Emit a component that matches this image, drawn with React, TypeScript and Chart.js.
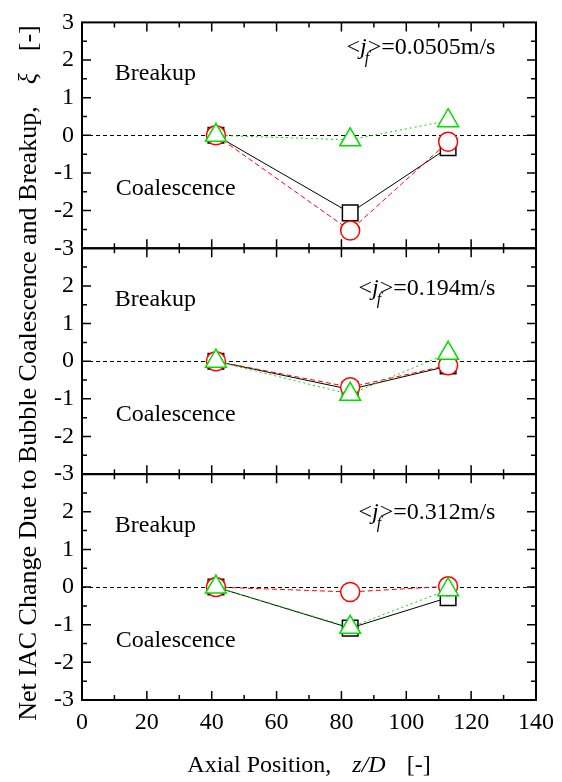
import React, { useEffect, useRef } from 'react';
import { Chart, registerables } from 'chart.js';

Chart.register(...registerables);

// ---- data ----
const axialPositions = [41.3, 82.7, 112.9];
const panelIds = ['yA', 'yB', 'yC'];
const jfLabels = ['0.0505', '0.194', '0.312'];

const squareTop = [0, -2.06, -0.33];
const circleTop = [0, -2.53, -0.17];
const triangleTop = [0, -0.12, 0.39];

const squareMid = [0, -0.75, -0.13];
const circleMid = [0, -0.69, -0.11];
const triangleMid = [0, -0.88, 0.21];

const squareBot = [0, -1.09, -0.28];
const circleBot = [0, -0.13, 0.02];
const triangleBot = [0, -1.07, -0.07];

const xMin = 0;
const xMax = 140;
const xStep = 20;
const yMin = -3;
const yMax = 3;
const yStep = 1;

const breakupText = 'Breakup';
const coalescenceText = 'Coalescence';
const xTitleParts = ['Axial Position,', 'z/D', '[-]'];
const yTitleParts = ['Net IAC Change Due to Bubble Coalescence and Breakup,', 'ξ', '[-]'];

// text anchor positions in data units
const breakupAt = { x: 10.1, y: 1.47 };
const coalescenceAt = { x: 10.4, y: -1.59 };
const annotRightX = 127.5;
const annotBaselineY = [2.15, 1.77, 1.82];

const FONT = "'Liberation Serif', 'Times New Roman', serif";
const GREEN = 'rgb(0,220,0)';
const RED = 'rgb(255,0,0)';

const seriesSets = [
  [squareTop, circleTop, triangleTop],
  [squareMid, circleMid, triangleMid],
  [squareBot, circleBot, triangleBot],
];

function buildDatasets() {
  const out: any[] = [];
  seriesSets.forEach((set, p) => {
    const yAxisID = panelIds[p];
    const pts = (vals: number[]) => axialPositions.map((x, i) => ({ x, y: vals[i] }));
    out.push({
      label: 'square' + p,
      data: pts(set[0]),
      yAxisID,
      xAxisID: 'x',
      borderColor: '#000',
      borderWidth: 1,
      pointStyle: 'rect',
      pointRadius: 11,
      pointBorderWidth: 1.5,
      pointBorderColor: '#000',
      pointBackgroundColor: '#fff',
      order: 3,
    });
    out.push({
      label: 'circle' + p,
      data: pts(set[1]),
      yAxisID,
      xAxisID: 'x',
      borderColor: RED,
      borderWidth: 1,
      borderDash: [5, 3],
      pointStyle: 'circle',
      pointRadius: 9.5,
      pointBorderWidth: 1.5,
      pointBorderColor: RED,
      pointBackgroundColor: '#fff',
      order: 2,
    });
    out.push({
      label: 'triangle' + p,
      data: pts(set[2]),
      yAxisID,
      xAxisID: 'x',
      borderColor: GREEN,
      borderWidth: 1,
      borderDash: [2, 3],
      pointStyle: 'triangle',
      pointRadius: 12,
      pointBorderWidth: 1.5,
      pointBorderColor: GREEN,
      pointBackgroundColor: '#fff',
      order: 1,
    });
  });
  return out;
}

const framePlugin = {
  id: 'framePlugin',
  beforeDatasetsDraw(chart: any) {
    const { ctx, chartArea } = chart;
    ctx.save();
    ctx.setLineDash([4, 3]);
    ctx.strokeStyle = '#000';
    ctx.lineWidth = 1;
    for (const id of panelIds) {
      const y = Math.round(chart.scales[id].getPixelForValue(0)) + 0.5;
      ctx.beginPath();
      ctx.moveTo(chartArea.left, y);
      ctx.lineTo(chartArea.right, y);
      ctx.stroke();
    }
    ctx.restore();
  },
  afterDatasetsDraw(chart: any) {
    const { ctx, chartArea } = chart;
    const xs = chart.scales.x;
    const left = chartArea.left;
    const right = chartArea.right;
    ctx.save();
    ctx.strokeStyle = '#000';
    ctx.fillStyle = '#000';
    panelIds.forEach((id, p) => {
      const s = chart.scales[id];
      const top = s.getPixelForValue(yMax);
      const bottom = s.getPixelForValue(yMin);
      ctx.lineWidth = 1.5;
      for (let v = yMin + 0.5; v < yMax; v += 0.5) {
        const y = s.getPixelForValue(v);
        const len = Math.abs(v - Math.round(v)) < 1e-6 ? 9 : 5;
        ctx.beginPath();
        ctx.moveTo(left, y);
        ctx.lineTo(left + len, y);
        ctx.moveTo(right, y);
        ctx.lineTo(right - len, y);
        ctx.stroke();
      }
      for (let v = xMin + 10; v < xMax; v += 10) {
        const x = xs.getPixelForValue(v);
        const len = v % 20 === 0 ? 9 : 5;
        ctx.beginPath();
        ctx.moveTo(x, top);
        ctx.lineTo(x, top + len);
        ctx.moveTo(x, bottom);
        ctx.lineTo(x, bottom - len);
        ctx.stroke();
      }
      ctx.lineWidth = 2;
      ctx.strokeRect(left, top, right - left, bottom - top);

      // region labels
      ctx.font = `24px ${FONT}`;
      ctx.textAlign = 'left';
      ctx.textBaseline = 'alphabetic';
      ctx.fillText(breakupText, xs.getPixelForValue(breakupAt.x), s.getPixelForValue(breakupAt.y));
      ctx.fillText(coalescenceText, xs.getPixelForValue(coalescenceAt.x), s.getPixelForValue(coalescenceAt.y));

      // annotation <j_f>=...m/s
      const base = s.getPixelForValue(annotBaselineY[p]);
      const rest = '=' + jfLabels[p] + 'm/s';
      const up = `24px ${FONT}`;
      const it = `italic 24px ${FONT}`;
      const sub = `italic 16px ${FONT}`;
      ctx.font = up;
      const wLt = ctx.measureText('<').width;
      const wGt = ctx.measureText('>').width;
      const wRest = ctx.measureText(rest).width;
      ctx.font = it;
      const wJ = ctx.measureText('j').width;
      const total = wLt + wJ + 1 + wGt + wRest;
      let x = xs.getPixelForValue(annotRightX) - total;
      ctx.font = up;
      ctx.fillText('<', x, base);
      x += wLt;
      ctx.font = it;
      ctx.fillText('j', x, base);
      ctx.font = sub;
      ctx.fillText('f', x + wJ - 2, base + 9);
      x += wJ + 1;
      ctx.font = up;
      ctx.fillText('>', x, base);
      x += wGt;
      ctx.fillText(rest, x, base);
    });
    ctx.restore();
  },
  afterDraw(chart: any) {
    const { ctx, chartArea } = chart;
    ctx.save();
    ctx.fillStyle = '#000';
    ctx.textBaseline = 'alphabetic';
    ctx.textAlign = 'left';
    const up = `24px ${FONT}`;
    const it = `italic 24px ${FONT}`;
    const gap = 21;

    // x title
    ctx.font = up;
    const w0 = ctx.measureText(xTitleParts[0]).width;
    const w2 = ctx.measureText(xTitleParts[2]).width;
    ctx.font = it;
    const w1 = ctx.measureText(xTitleParts[1]).width;
    const totalX = w0 + gap + w1 + gap + w2;
    const cx = (chartArea.left + chartArea.right) / 2;
    let x = cx - totalX / 2;
    const by = chartArea.bottom + 72;
    ctx.font = up;
    ctx.fillText(xTitleParts[0], x, by);
    x += w0 + gap;
    ctx.font = it;
    ctx.fillText(xTitleParts[1], x, by);
    x += w1 + gap;
    ctx.font = up;
    ctx.fillText(xTitleParts[2], x, by);

    // y title (rotated)
    const upY = `26px ${FONT}`;
    const itY = `italic 26px ${FONT}`;
    const gapY = 22;
    ctx.font = upY;
    const v0 = ctx.measureText(yTitleParts[0]).width;
    const v2 = ctx.measureText(yTitleParts[2]).width;
    ctx.font = itY;
    const v1 = ctx.measureText(yTitleParts[1]).width;
    const totalY = v0 + gapY + v1 + gapY + v2;
    ctx.translate(36, 373);
    ctx.rotate(-Math.PI / 2);
    let t = -totalY / 2;
    ctx.font = upY;
    ctx.fillText(yTitleParts[0], t, 0);
    t += v0 + gapY;
    ctx.font = itY;
    ctx.fillText(yTitleParts[1], t, 0);
    t += v1 + gapY;
    ctx.font = upY;
    ctx.fillText(yTitleParts[2], t, 0);
    ctx.restore();
  },
};

function yScale(idx: number, weight: number) {
  return {
    type: 'linear',
    position: 'left',
    stack: 'panels',
    stackWeight: 1,
    weight,
    min: yMin,
    max: yMax,
    grid: { display: false, drawTicks: false },
    border: { display: false },
    ticks: {
      stepSize: yStep,
      autoSkip: false,
      padding: 8,
      color: '#000',
      font: { family: FONT, size: 24 },
      callback: (v: number) => (idx > 0 && v === yMax ? '' : String(v)),
    },
    afterFit: (s: any) => {
      s.width = 82;
    },
  };
}

export default function App() {
  const ref = useRef<HTMLCanvasElement | null>(null);
  useEffect(() => {
    if (!ref.current) return;
    const chart = new Chart(ref.current, {
      type: 'line',
      data: { datasets: buildDatasets() },
      options: {
        animation: false,
        responsive: false,
        devicePixelRatio: 1,
        layout: { padding: { top: 20, right: 23, left: 0, bottom: 0 } },
        plugins: { legend: { display: false }, tooltip: { enabled: false } },
        scales: {
          x: {
            type: 'linear',
            position: 'bottom',
            min: xMin,
            max: xMax,
            grid: { display: false, drawTicks: false },
            border: { display: false },
            ticks: {
              stepSize: xStep,
              autoSkip: false,
              maxRotation: 0,
              padding: 8,
              color: '#000',
              font: { family: FONT, size: 24 },
            },
            afterFit: (s: any) => {
              s.height = 82;
            },
          },
          yC: yScale(2, 1),
          yB: yScale(1, 2),
          yA: yScale(0, 3),
        },
      } as any,
      plugins: [framePlugin],
    });
    return () => chart.destroy();
  }, []);
  return (
    <div style={{ position: 'absolute', left: 0, top: 0, width: 562, height: 782, background: '#fff' }}>
      <canvas ref={ref} width={562} height={782} style={{ display: 'block' }} />
    </div>
  );
}
